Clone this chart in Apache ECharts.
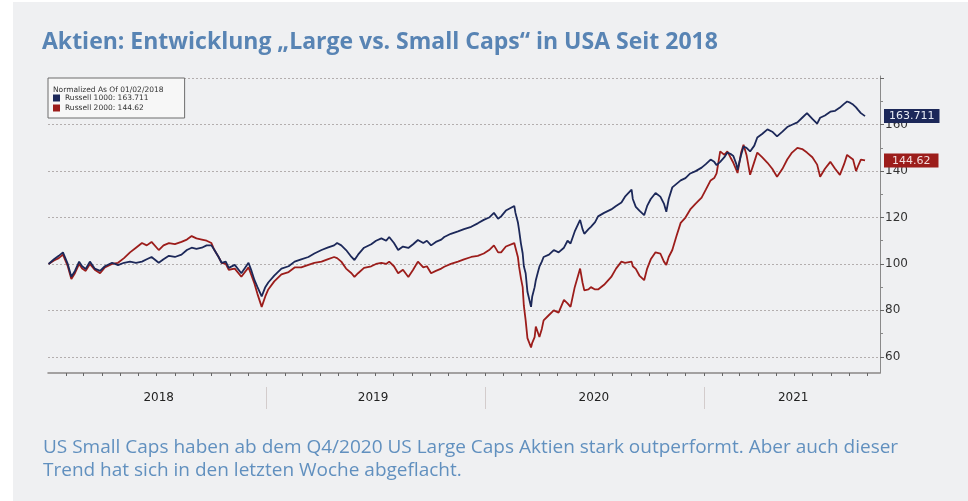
<!DOCTYPE html>
<html>
<head>
<meta charset="utf-8">
<script src="https://cdn.jsdelivr.net/npm/echarts@6/dist/echarts.min.js"></script>
<style>
  html, body { margin: 0; padding: 0; background: #ffffff; }
  #main { width: 968px; height: 501px; }
</style>
</head>
<body>
<div id="main"></div>
<script>
// values, normalized to 100 on 01/02/2018
var dates = [
  '2018-01-02','2018-01-11','2018-01-19','2018-01-26','2018-02-03','2018-02-09','2018-02-15','2018-02-22','2018-02-27','2018-03-05',
  '2018-03-12','2018-03-20','2018-03-29','2018-04-06','2018-04-18','2018-04-28','2018-05-08','2018-05-18','2018-05-28','2018-06-07',
  '2018-06-15','2018-06-23','2018-07-05','2018-07-13','2018-07-22','2018-08-01','2018-08-12','2018-08-21','2018-08-29','2018-09-06',
  '2018-09-15','2018-09-23','2018-10-01','2018-10-06','2018-10-13','2018-10-18','2018-10-25','2018-10-30','2018-11-09','2018-11-20',
  '2018-12-02','2018-12-07','2018-12-12','2018-12-17','2018-12-24','2018-12-30','2019-01-04','2019-01-14','2019-01-26','2019-02-07',
  '2019-02-17','2019-02-28','2019-03-12','2019-03-22','2019-04-03','2019-04-13','2019-04-24','2019-04-29','2019-05-06','2019-05-14',
  '2019-05-23','2019-05-28','2019-06-03','2019-06-13','2019-06-25','2019-07-03','2019-07-12','2019-07-20','2019-07-25','2019-08-02',
  '2019-08-09','2019-08-17','2019-08-26','2019-09-03','2019-09-11','2019-09-20','2019-09-26','2019-10-03','2019-10-11','2019-10-20',
  '2019-10-25','2019-11-05','2019-11-17','2019-11-27','2019-12-09','2019-12-20','2019-12-30','2020-01-08','2020-01-16','2020-01-23',
  '2020-01-28','2020-02-05','2020-02-19','2020-02-21','2020-02-25','2020-02-27','2020-03-01','2020-03-04','2020-03-06','2020-03-09',
  '2020-03-12','2020-03-18','2020-03-20','2020-03-24','2020-03-26','2020-03-30','2020-04-01','2020-04-05','2020-04-08','2020-04-17',
  '2020-04-25','2020-05-03','2020-05-12','2020-05-18','2020-05-23','2020-05-30','2020-06-08','2020-06-12','2020-06-15','2020-06-22',
  '2020-06-26','2020-07-03','2020-07-08','2020-07-18','2020-07-30','2020-08-07','2020-08-16','2020-08-22','2020-09-02','2020-09-04',
  '2020-09-09','2020-09-15','2020-09-23','2020-09-28','2020-10-04','2020-10-12','2020-10-15','2020-10-20','2020-10-26','2020-10-30',
  '2020-11-03','2020-11-09','2020-11-16','2020-11-23','2020-12-01','2020-12-09','2020-12-18','2020-12-28','2021-01-04','2021-01-12',
  '2021-01-18','2021-01-22','2021-01-28','2021-02-04','2021-02-09','2021-02-14','2021-02-19','2021-02-24','2021-02-26','2021-03-04',
  '2021-03-08','2021-03-13','2021-03-19','2021-03-26','2021-03-31','2021-04-08','2021-04-17','2021-04-25','2021-05-03','2021-05-12',
  '2021-05-20','2021-05-28','2021-06-06','2021-06-14','2021-06-22','2021-07-01','2021-07-09','2021-07-14','2021-07-22','2021-07-31',
  '2021-08-08','2021-08-16','2021-08-23','2021-08-28','2021-09-02','2021-09-07','2021-09-12','2021-09-15','2021-09-20','2021-09-27'
];

var russell1000 = [
  100, 102, 103.5, 105, 100, 94.5, 97, 101, 99, 97.8,
  101, 98, 97, 99, 100.5, 99.5, 100.5, 101, 100.5, 101,
  102, 103, 100.5, 102, 103.5, 103, 104, 106, 107, 106.5,
  107, 108, 108, 106, 103, 100.5, 101, 98.3, 99.6, 96,
  100.5, 97, 93, 90, 86, 90, 92, 95, 98, 99,
  101, 102, 103, 104.5, 106, 107, 108, 109, 108, 106,
  103, 101.7, 104, 107, 108.5, 110, 111, 110, 111.6, 109,
  106, 107.5, 106.9, 108.5, 110.3, 109, 110, 108, 109.5, 110.5,
  111.6, 113, 114, 115, 116, 117.5, 119, 120, 122, 119.5,
  120.5, 123, 125, 122, 118, 114.7, 109, 104.6, 99, 96,
  88, 81.5, 86, 90, 93, 97, 98.8, 101, 103, 104,
  106, 105, 107, 110, 108.8, 114, 119, 115, 113, 115,
  116, 118, 120.5, 122, 123.5, 125, 126.5, 129, 132, 128,
  124.6, 123, 121, 125, 128, 130.6, 131, 129, 126, 122.5,
  128, 133, 134.5, 136, 137, 139, 140, 141.5, 143, 145,
  144, 142.6, 144, 146, 148, 147.5, 146.5, 143, 140.6, 147,
  150.6, 150, 148.5, 151, 154.5, 156, 158, 157, 155, 157,
  159, 160, 161, 163, 165, 162.5, 160.5, 163, 164, 165.6,
  166, 167.4, 169, 170, 169.5, 168.7, 167.5, 166.5, 165, 163.711
];

var russell2000 = [
  100, 101.5, 102.5, 104, 99, 93.5, 96, 100, 98, 97,
  100, 97.5, 96, 98.5, 100, 100.5, 102.5, 105, 107, 109,
  108, 109.5, 106, 108, 109, 108.5, 109.5, 110.5, 112, 111,
  110.5, 110, 109, 106, 103, 100.5, 100, 97.5, 98, 94.5,
  98.5, 95, 91.5, 87, 81.5, 86, 89, 92.5, 95.5, 96.5,
  98.5, 98.5, 99.6, 100.5, 101, 102, 103, 102.5, 101, 98,
  96, 94.4, 96, 98.3, 99, 100, 100.5, 100, 101, 99,
  96, 97.5, 94.4, 97.5, 101, 98.5, 99, 96, 97, 98,
  98.8, 100, 101, 102, 103, 103.5, 104.5, 106, 108, 105,
  105, 107.5, 109, 107, 103, 98.8, 94, 90, 82, 75.7,
  68, 64, 66, 68.5, 73, 70, 68.5, 72, 75.7, 78,
  80, 79, 84.5, 83, 81.5, 90, 98, 92, 88.6, 89,
  90, 89, 89, 91, 94.4, 98, 101, 100.5, 101, 99,
  97.9, 95, 93, 98, 102, 105, 105, 104.5, 101, 99.6,
  103, 106, 112, 117.7, 120, 123.5, 126, 128.6, 132, 136,
  137, 139, 148.5, 147, 148.5, 146, 143.6, 140.5, 139.2, 148,
  151.4, 147, 138.4, 144, 148, 146, 143.6, 141, 137.6, 141,
  145, 148, 150, 149.5, 148, 146, 142.8, 137.6, 141, 144,
  141, 138.4, 143, 147, 146, 145, 140, 142, 145, 144.62
];

var seriesNames = ['Russell 1000', 'Russell 2000'];
var seriesColors = ['#1c2859', '#9c1d1b'];
var legendHeader = 'Normalized As Of 01/02/2018';

var yLabelValues = [60, 80, 100, 120, 140, 160];
var yGridValues = [60, 80, 100, 120, 140, 160, 180];
var yMinorValues = [70, 90, 110, 130, 150, 170];

var yearLabels = ['2018', '2019', '2020', '2021'];
var yearLabelDates = ['2018-07-05', '2019-06-28', '2020-07-01', '2021-05-30'];
var yearStarts = ['2019-01-01', '2020-01-01', '2021-01-01'];

var xMin = '2018-01-01';
var xMax = '2021-10-22';

function ts(s) {
  return +echarts.number.parseDate(s);
}

// small month ticks along the x axis line
var monthTicks = [];
for (var yr = 2018; yr <= 2021; yr++) {
  for (var m = 1; m <= 12; m++) {
    var s = yr + '-' + (m < 10 ? '0' + m : m) + '-01';
    if (s > xMin && s < xMax) monthTicks.push(ts(s));
  }
}

function pairs(values) {
  var out = [];
  for (var i = 0; i < dates.length; i++) {
    out.push([dates[i], values[i]]);
  }
  return out;
}

var last1000 = russell1000[russell1000.length - 1];
var last2000 = russell2000[russell2000.length - 1];

var myChart = echarts.init(document.getElementById('main'));

var option = {
  backgroundColor: '#ffffff',
  animation: false,
  graphic: [
    {
      type: 'rect',
      left: 13, top: 2,
      shape: { width: 955, height: 499 },
      style: { fill: '#eff0f2' },
      z: -100
    }
  ],
  title: [
    {
      text: 'Aktien: Entwicklung „Large vs. Small Caps“ in USA Seit 2018',
      left: 42, top: 31,
      padding: 0,
      textStyle: { fontFamily: 'Open Sans', fontWeight: 'bold', fontSize: 23, color: '#5884b4' }
    },
    {
      text: 'US Small Caps haben ab dem Q4/2020 US Large Caps Aktien stark outperformt. Aber auch dieser\nTrend hat sich in den letzten Woche abgeflacht.',
      left: 43, top: 436,
      padding: 0,
      textStyle: { fontFamily: 'Open Sans', fontWeight: 'normal', fontSize: 19, lineHeight: 23, color: '#6190bf' }
    },
    {
      text: legendHeader,
      left: 53, top: 86,
      padding: 0,
      textStyle: { fontFamily: 'DejaVu Sans', fontWeight: 'normal', fontSize: 7.5, color: '#333' }
    }
  ],
  legend: {
    left: 48, top: 78,
    orient: 'vertical',
    padding: [16, 36, 6, 5],
    itemGap: 2,
    itemWidth: 7,
    itemHeight: 7,
    icon: 'rect',
    backgroundColor: '#f7f7f7',
    borderColor: '#6d6d6d',
    borderWidth: 1,
    borderRadius: 0,
    textStyle: { fontFamily: 'DejaVu Sans', fontSize: 7.5, color: '#333' },
    formatter: function (name) {
      return name === seriesNames[0] ? name + ': ' + last1000 : name + ': ' + last2000;
    },
    data: seriesNames
  },
  grid: { left: 48, right: 88, top: 76, bottom: 128 },
  xAxis: [
    {
      type: 'time',
      min: xMin, max: xMax,
      axisLine: { show: true, lineStyle: { color: '#8a8686', width: 1.5 } },
      axisTick: { show: false },
      axisLabel: { show: false },
      splitLine: { show: false }
    },
    {
      type: 'value',
      min: ts(xMin), max: ts(xMax),
      position: 'bottom',
      axisLine: { show: false },
      axisTick: { show: true, customValues: monthTicks, length: 3, lineStyle: { color: '#666' } },
      axisLabel: { show: false },
      splitLine: { show: false }
    },
    {
      type: 'value',
      min: ts(xMin), max: ts(xMax),
      position: 'bottom',
      offset: 14,
      axisLine: { show: false },
      axisTick: { show: true, customValues: yearStarts.map(ts), length: 22, lineStyle: { color: '#d3cccc' } },
      axisLabel: {
        show: true,
        customValues: yearLabelDates.map(ts),
        margin: 5,
        fontFamily: 'DejaVu Sans', fontSize: 12, color: '#222',
        formatter: function (v) {
          return yearLabels[yearLabels.indexOf(String(new Date(v).getFullYear()))];
        }
      },
      splitLine: { show: false }
    }
  ],
  yAxis: [
    {
      type: 'value',
      position: 'right',
      min: 53, max: 181,
      axisLine: { show: true, lineStyle: { color: '#8a8a8a' } },
      axisTick: { show: true, customValues: yGridValues, length: 4, lineStyle: { color: '#666' } },
      axisLabel: { show: true, customValues: yLabelValues, margin: 5, fontFamily: 'DejaVu Sans', fontSize: 12, color: '#333' },
      splitLine: { show: true, lineStyle: { color: '#b3aeae', type: [2, 2], width: 1 } }
    },
    {
      type: 'value',
      position: 'right',
      min: 53, max: 181,
      axisLine: { show: false },
      axisTick: { show: true, customValues: yMinorValues, length: 3, lineStyle: { color: '#888' } },
      axisLabel: { show: false },
      splitLine: { show: false }
    },
    {
      type: 'value',
      position: 'right',
      min: 53, max: 181,
      axisLine: { show: false },
      axisTick: { show: false },
      splitLine: { show: false },
      axisLabel: {
        show: true,
        customValues: [last1000, last2000],
        margin: 4,
        formatter: function (v) {
          return v === last1000 ? '{a|' + last1000 + '}' : '{b|' + last2000 + '}';
        },
        rich: {
          a: { backgroundColor: seriesColors[0], color: '#e8ecf5', fontFamily: 'DejaVu Sans', fontSize: 11, padding: [1, 5, 0, 5], height: 13 },
          b: { backgroundColor: seriesColors[1], color: '#f3dede', fontFamily: 'DejaVu Sans', fontSize: 11, padding: [1, 8, 0, 8], height: 13 }
        }
      }
    }
  ],
  series: [
    {
      name: seriesNames[0],
      type: 'line',
      xAxisIndex: 0,
      yAxisIndex: 0,
      data: pairs(russell1000),
      showSymbol: false,
      symbol: 'none',
      lineStyle: { color: seriesColors[0], width: 1.8 },
      itemStyle: { color: seriesColors[0] },
      z: 3
    },
    {
      name: seriesNames[1],
      type: 'line',
      xAxisIndex: 0,
      yAxisIndex: 0,
      data: pairs(russell2000),
      showSymbol: false,
      symbol: 'none',
      lineStyle: { color: seriesColors[1], width: 1.8 },
      itemStyle: { color: seriesColors[1] },
      z: 2
    }
  ]
};

myChart.setOption(option);
</script>
</body>
</html>
